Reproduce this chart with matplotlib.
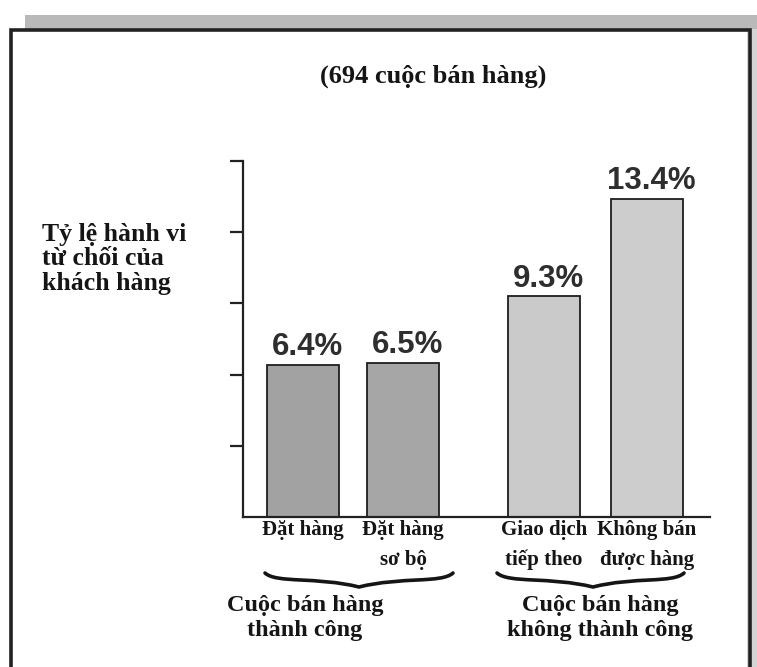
import matplotlib
matplotlib.use("Agg")
import matplotlib.pyplot as plt
from matplotlib.path import Path
from matplotlib.patches import PathPatch, Rectangle

# ---- data ----
categories = ["Đặt hàng", "Đặt hàng\nsơ bộ", "Giao dịch\ntiếp theo", "Không bán\nđược hàng"]
values = [6.4, 6.5, 9.3, 13.4]
value_labels = ["6.4%", "6.5%", "9.3%", "13.4%"]
groups = ["Cuộc bán hàng\nthành công", "Cuộc bán hàng\nkhông thành công"]
title = "(694 cuộc bán hàng)"
ylabel = "Tỷ lệ hành vi\ntừ chối của\nkhách hàng"
yticks = [3, 6, 9, 12, 15]

# ---- layout / style ----
W, H = 757, 667
positions = [0, 1, 2.41, 3.44]
bar_width = 0.72
bar_colors = ["#a2a2a2", "#a6a6a6", "#cacaca", "#cdcdcd"]
SERIF = ["Liberation Serif", "DejaVu Serif"]
SANS = ["Liberation Sans", "DejaVu Sans"]
INK = "#151515"

fig = plt.figure(figsize=(W / 100, H / 100), dpi=100)
fig.patch.set_facecolor("white")

# overlay in pixel coordinates (decorations)
ov = fig.add_axes([0, 0, 1, 1], zorder=0)
ov.set_xlim(0, W)
ov.set_ylim(H, 0)
ov.axis("off")

# frame with shadow band
ov.add_patch(Rectangle((25, 15), W - 25, 14, facecolor="#b9b9b9", edgecolor="none"))
ov.add_patch(Rectangle((747, 29), 10, H, facecolor="#d4d4d4", edgecolor="none"))
ov.plot([11, 11, 750, 750], [H + 5, 30, 30, H + 5], color="#222222", lw=2.6,
        solid_joinstyle="miter")

ov.text(433, 76, title, ha="center", va="center", fontsize=19,
        fontweight="bold", family=SERIF, color=INK)
ov.text(42, 223, ylabel, ha="left", va="top", fontsize=18.5,
        fontweight="bold", family=SERIF, color=INK, linespacing=1.08)


def brace(x0, x1, xm, y0, h):
    verts = [(x0, y0),
             (x0 + 0.12 * (xm - x0), y0 + 0.75 * h),
             (xm - 0.45 * (xm - x0), y0 + 0.25 * h),
             (xm, y0 + h),
             (xm + 0.45 * (x1 - xm), y0 + 0.25 * h),
             (x1 - 0.12 * (x1 - xm), y0 + 0.75 * h),
             (x1, y0)]
    codes = [Path.MOVETO, Path.CURVE4, Path.CURVE4, Path.CURVE4,
             Path.CURVE4, Path.CURVE4, Path.CURVE4]
    ov.add_patch(PathPatch(Path(verts, codes), facecolor="none",
                           edgecolor=INK, lw=2.6, capstyle="round"))


brace(265, 453, 359, 573, 14)
brace(497, 684, 593, 573, 14)

ov.text(305, 618, groups[0], ha="center", va="center", fontsize=17.5,
        fontweight="bold", family=SERIF, color=INK, linespacing=1.25)
ov.text(600, 618, groups[1], ha="center", va="center", fontsize=17.5,
        fontweight="bold", family=SERIF, color=INK, linespacing=1.25)

# main chart axes
ax = fig.add_axes([243 / W, 1 - 517 / H, 467 / W, 356 / H], zorder=1)
ax.set_facecolor("none")
ax.bar(positions, values, width=bar_width, color=bar_colors,
       edgecolor="#1e1e1e", linewidth=1.3, zorder=2)

for x, v, lab in zip(positions, values, value_labels):
    ax.annotate(lab, (x, v), xytext=(3, 7), textcoords="offset points",
                ha="center", va="baseline", fontsize=22.5, family=SANS,
                fontweight="bold", color="#2e2e2e")

ax.set_xlim(-0.6, 4.07)
ax.set_ylim(0, 15)
ax.set_yticks(yticks)
ax.set_yticklabels([])
ax.tick_params(axis="y", direction="out", length=9.5, width=1.6, color="#222222")
ax.set_xticks(positions)
ax.set_xticklabels(categories, fontsize=15, fontweight="bold",
                   family=SERIF, color=INK, linespacing=1.65)
ax.tick_params(axis="x", length=0, pad=2)
for s in ["top", "right"]:
    ax.spines[s].set_visible(False)
for s in ["left", "bottom"]:
    ax.spines[s].set_linewidth(1.6)
    ax.spines[s].set_color("#222222")

fig.savefig("out.png", dpi=100)
